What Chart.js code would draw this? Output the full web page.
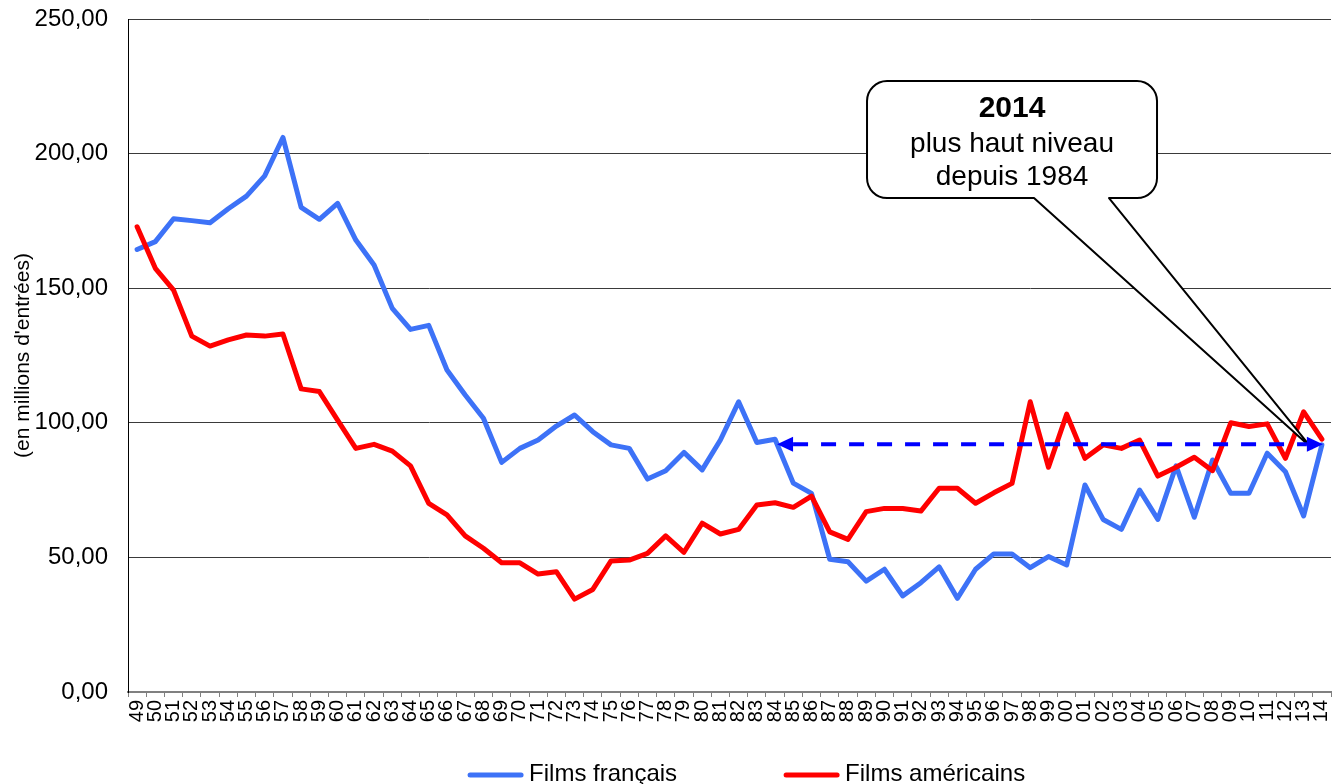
<!DOCTYPE html>
<html><head><meta charset="utf-8">
<script src="https://cdn.jsdelivr.net/npm/chart.js@4.4.1/dist/chart.umd.min.js"></script>
<style>html,body{margin:0;padding:0;background:#fff;overflow:hidden}#wrap{width:1338px;height:784px;position:relative}</style>
</head><body><div id="wrap"><canvas id="c" width="1338" height="784"></canvas></div>
<script>
const years = ['49','50','51','52','53','54','55','56','57','58','59','60','61','62','63','64','65','66','67','68','69','70','71','72','73','74','75','76','77','78','79','80','81','82','83','84','85','86','87','88','89','90','91','92','93','94','95','96','97','98','99','00','01','02','03','04','05','06','07','08','09','10','11','12','13','14'];
const frenchFilms = [164.4,167.3,175.8,175.1,174.3,179.5,184.2,191.7,206.0,180.0,175.6,181.5,167.9,158.6,142.5,134.7,136.2,119.6,110.3,101.7,85.3,90.5,93.6,98.8,102.9,96.7,91.8,90.5,79.1,82.2,89.0,82.5,93.6,107.8,92.7,93.9,77.6,73.8,49.3,48.4,41.2,45.6,35.7,40.6,46.5,34.8,45.6,51.3,51.3,46.2,50.3,47.2,76.9,64.1,60.4,75.0,64.1,84.0,64.9,86.2,73.8,73.8,88.7,81.8,65.4,91.8];
const americanFilms = [172.8,157.4,149.3,132.2,128.5,130.8,132.6,132.2,133.0,112.6,111.6,101.0,90.5,92.0,89.5,84.0,70.1,65.8,58.0,53.4,48.0,48.0,43.8,44.7,34.5,38.1,48.7,49.0,51.5,58.0,51.9,62.7,58.7,60.4,69.5,70.3,68.6,72.8,59.5,56.7,67.0,68.2,68.2,67.2,75.7,75.7,70.1,74.0,77.5,107.8,83.5,103.2,86.8,91.8,90.5,93.6,80.2,83.5,87.2,82.2,100.0,98.6,99.6,86.8,104.1,93.9];
const seriesLabels = ['Films français', 'Films américains'];
const yTicks = [0, 50, 100, 150, 200, 250];
const yTitle = "(en millions d'entrées)";
const arrowFrom = '84', arrowTo = '14', arrowValue = 92;
const calloutYear = '97', calloutValue = 205.2;
const calloutLines = ['2014', 'plus haut niveau', 'depuis 1984'];

const FONT = "'Liberation Sans', Arial, sans-serif";
Chart.defaults.font.family = FONT;
Chart.defaults.color = '#000';

const overlay = {
  id: 'overlay',
  afterDatasetsDraw(chart) {
    const ctx = chart.ctx, xs = chart.scales.x, ys = chart.scales.y;
    const cx = xs.getPixelForValue(years.indexOf(calloutYear));
    const cy = ys.getPixelForValue(calloutValue);
    const w = 290, h = 117, r = 20;
    const bx = cx - w / 2, by = cy - h / 2;
    const ay = ys.getPixelForValue(arrowValue);
    const xR = xs.getPixelForValue(years.indexOf(arrowTo));
    const xL = xs.getPixelForValue(years.indexOf(arrowFrom));
    const tipX = xR - 10, tipY = ay + 4;
    ctx.save();
    ctx.beginPath();
    ctx.moveTo(bx + r, by);
    ctx.lineTo(bx + w - r, by);
    ctx.arcTo(bx + w, by, bx + w, by + r, r);
    ctx.lineTo(bx + w, by + h - r);
    ctx.arcTo(bx + w, by + h, bx + w - r, by + h, r);
    ctx.lineTo(bx + 242, by + h);
    ctx.lineTo(tipX, tipY);
    ctx.lineTo(bx + 167, by + h);
    ctx.lineTo(bx + r, by + h);
    ctx.arcTo(bx, by + h, bx, by + h - r, r);
    ctx.lineTo(bx, by + r);
    ctx.arcTo(bx, by, bx + r, by, r);
    ctx.closePath();
    ctx.fillStyle = '#fff';
    ctx.fill();
    ctx.lineWidth = 2;
    ctx.strokeStyle = '#000';
    ctx.lineJoin = 'round';
    ctx.stroke();
    ctx.fillStyle = '#000';
    ctx.textAlign = 'center';
    ctx.textBaseline = 'alphabetic';
    ctx.font = 'bold 30px ' + FONT;
    ctx.fillText(calloutLines[0], cx, by + 36);
    ctx.font = '28px ' + FONT;
    ctx.fillText(calloutLines[1], cx, by + 71);
    ctx.fillText(calloutLines[2], cx, by + 104);
    const left = xL + 2, right = xR + 1, L = 16, hw = 7.5;
    ctx.strokeStyle = '#0000ff';
    ctx.fillStyle = '#0000ff';
    ctx.lineWidth = 4;
    ctx.setLineDash([15, 13]);
    ctx.beginPath();
    ctx.moveTo(left + L, ay);
    ctx.lineTo(right - L, ay);
    ctx.stroke();
    ctx.setLineDash([]);
    ctx.beginPath();
    ctx.moveTo(left, ay); ctx.lineTo(left + L, ay - hw); ctx.lineTo(left + L, ay + hw); ctx.closePath(); ctx.fill();
    ctx.beginPath();
    ctx.moveTo(right, ay); ctx.lineTo(right - L, ay - hw); ctx.lineTo(right - L, ay + hw); ctx.closePath(); ctx.fill();
    ctx.restore();
  },
  afterDraw(chart) {
    const ctx = chart.ctx;
    ctx.save();
    ctx.font = '24px ' + FONT;
    const sample = 55, gap = 6, itemGap = 107;
    const ds = chart.data.datasets;
    const widths = ds.map(d => ctx.measureText(d.label).width);
    const total = widths.reduce((a, b) => a + b, 0) + ds.length * (sample + gap) + itemGap * (ds.length - 1);
    let x = chart.width * 0.558 - total / 2;
    const lineY = 775, baseY = 781;
    ds.forEach((d, i) => {
      ctx.strokeStyle = d.borderColor;
      ctx.lineWidth = 5;
      ctx.lineCap = 'round';
      ctx.beginPath();
      ctx.moveTo(x + 2, lineY); ctx.lineTo(x + sample - 2, lineY);
      ctx.stroke();
      ctx.fillStyle = '#000';
      ctx.textAlign = 'left';
      ctx.textBaseline = 'alphabetic';
      ctx.fillText(d.label, x + sample + gap, baseY);
      x += sample + gap + widths[i] + itemGap;
    });
    ctx.restore();
  }
};

new Chart(document.getElementById('c'), {
  type: 'line',
  data: {
    labels: years,
    datasets: [
      { label: seriesLabels[0], data: frenchFilms, borderColor: '#3d72f7', backgroundColor: '#3d72f7', borderWidth: 5, pointRadius: 0, tension: 0, borderJoinStyle: 'round', borderCapStyle: 'round', order: 2 },
      { label: seriesLabels[1], data: americanFilms, borderColor: '#ff0000', backgroundColor: '#ff0000', borderWidth: 5, pointRadius: 0, tension: 0, borderJoinStyle: 'round', borderCapStyle: 'round', order: 1 }
    ]
  },
  options: {
    responsive: false,
    animation: false,
    devicePixelRatio: 1,
    layout: { padding: { top: 19, right: 7, left: 0, bottom: 0 } },
    plugins: { legend: { display: false }, tooltip: { enabled: false } },
    scales: {
      x: {
        type: 'category',
        offset: true,
        grid: { display: true, offset: true, drawOnChartArea: false, drawTicks: true, tickLength: 5, color: '#808080', lineWidth: 1 },
        border: { display: true, color: '#808080', width: 2 },
        ticks: { autoSkip: false, maxRotation: 90, minRotation: 90, padding: 3, color: '#000', font: { size: 20 } },
        afterFit(s) { s.height = 92; s.paddingLeft = 0; s.paddingRight = 0; }
      },
      y: {
        min: 0, max: 250,
        afterBuildTicks(s) { s.ticks = yTicks.map(v => ({ value: v })); },
        grid: { color: '#3a3a3a', lineWidth: 1, drawTicks: false },
        border: { display: true, color: '#000', width: 1 },
        ticks: { padding: 20, color: '#000', font: { size: 24 }, callback: v => Number(v).toFixed(2).replace('.', ',') },
        title: { display: true, text: yTitle, color: '#000', font: { size: 21 }, padding: { top: 11, bottom: 0 } },
        afterFit(s) { s.width = 128; s.paddingTop = 0; s.paddingBottom = 0; }
      }
    }
  },
  plugins: [overlay]
});
</script></body></html>
